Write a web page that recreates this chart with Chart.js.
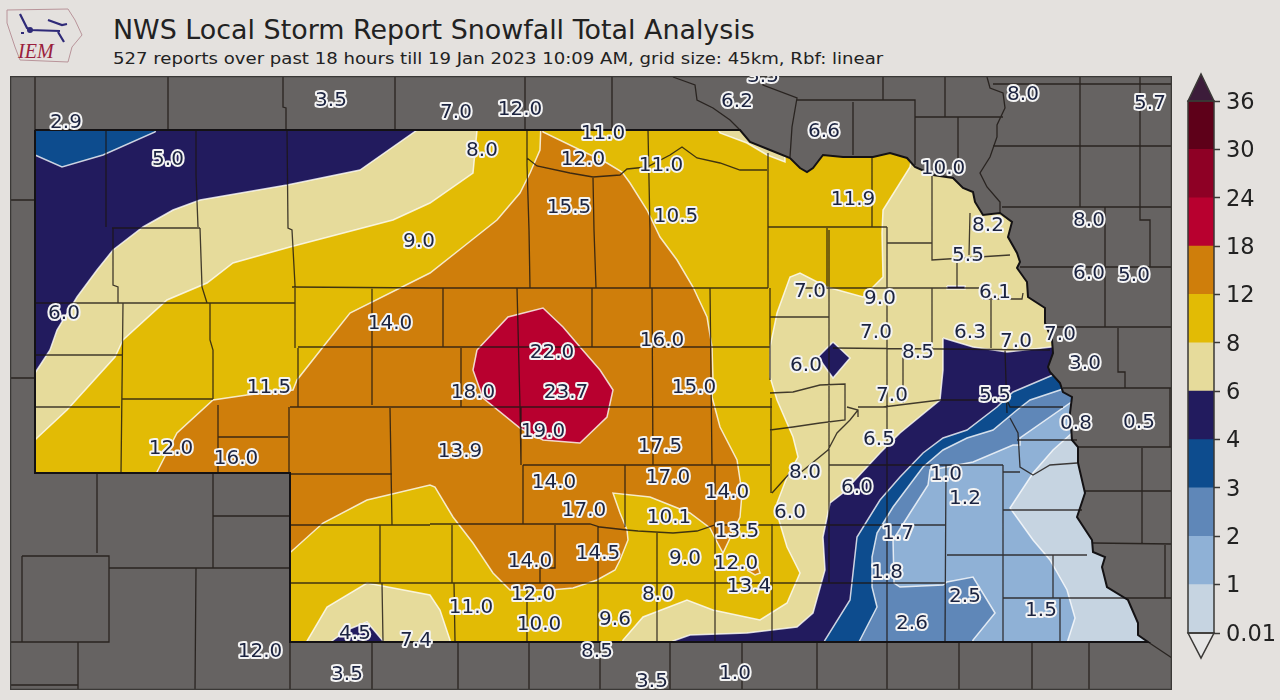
<!DOCTYPE html>
<html><head><meta charset="utf-8">
<style>
html,body{margin:0;padding:0;width:1280px;height:700px;background:#e4e1de;overflow:hidden;font-family:"DejaVu Sans",sans-serif}
#map{position:absolute;left:10px;top:76px;width:1162px;height:614px}
#bar{position:absolute;left:1180px;top:60px;width:100px;height:610px}
#t1{position:absolute;left:113px;top:13px;font-size:26.9px;line-height:34px;color:#222;white-space:nowrap;letter-spacing:0}
#t2{position:absolute;left:113px;top:47px;font-size:18.1px;line-height:22px;color:#222;white-space:nowrap;transform-origin:0 50%;transform:scaleY(.92)}
#logo{position:absolute;left:0;top:0}
</style>
<script src="https://cdn.jsdelivr.net/npm/chart.js@4/dist/chart.umd.js"></script>
</head><body>
<svg id="logo" width="90" height="70">
<polyline points="7,10 68,9 75,20 82,35 72,47 68,62 20,60 15,47 7,23 7,10" fill="none" stroke="#b9949a" stroke-width="1"/>
<path d="M20,14 L27,28 L30,30 L60,31 M48,20 L62,25 L67,24 M58,32 L64,42 M24,33 L21,33" fill="none" stroke="#2f2a78" stroke-width="2.2"/>
<circle cx="30" cy="30" r="3" fill="#2f2a78"/>
<text x="18" y="58" font-family="Liberation Serif" font-style="italic" font-size="20" fill="#9a1e3c">IEM</text>
</svg>
<div id="t1">NWS Local Storm Report Snowfall Total Analysis</div>
<div id="t2">527 reports over past 18 hours till 19 Jan 2023 10:09 AM, grid size: 45km, Rbf: linear</div>
<canvas id="map" width="1162" height="614"></canvas>
<canvas id="bar" width="100" height="610"></canvas>
<script>
// ---- colour bar ----
const barLevels = ['0.01','1','2','3','4','6','8','12','18','24','30','36'];
const barColors = ['#c6d4e1','#8fb1d6','#5f87b8','#0d4c8e','#221b5e','#e6db9b','#e2bb05','#cf7e0b','#b8002f','#8e0025','#5e0019'];
const overColor = '#3c1c3a', underColor = '#e6e6e6';

// ---- map outlines (map units) ----
const frameRing = [[10,130],[10,690],[1172,690],[1172,76],[10,76],[10,130],[35,130]];
const stateBorder = [[35,130],[740,130],[750,142],[770,150],[790,158],[800,168],[807,172],[813,168],[823,155],[843,157],[873,157],[890,153],[907,158],[915,167],[933,175],[953,178],[963,188],[973,192],[975,202],[983,215],[1000,213],[1012,222],[1008,237],[1017,253],[1020,262],[1017,268],[1027,282],[1028,297],[1045,308],[1045,323],[1052,340],[1053,353],[1048,367],[1050,372],[1060,383],[1063,392],[1072,397],[1070,413],[1072,440],[1078,447],[1078,463],[1085,493],[1077,517],[1092,540],[1093,552],[1105,557],[1102,567],[1107,587],[1128,600],[1138,623],[1138,635],[1148,642],[290,642],[290,473],[35,473],[35,130]];

// ---- snowfall contour bands, painted in order ----
const band8to12Base = [[20,120],[1160,120],[1160,660],[20,660]];
const band6to8NW = [[20,120],[478,120],[473,173],[430,203],[393,220],[290,247],[233,263],[207,283],[167,300],[123,340],[115,357],[67,410],[37,438],[20,455]];
const band4to6NW = [[20,120],[420,120],[417,130],[360,170],[287,185],[200,200],[173,210],[143,227],[113,250],[97,270],[77,297],[57,330],[50,350],[35,373],[20,390]];
const band3to4NW = [[20,120],[160,120],[155,132],[103,155],[62,167],[35,155],[20,150]];
const band12to18 = [[541,122],[543,132],[607,163],[622,172],[630,183],[647,210],[660,237],[677,260],[693,287],[707,317],[712,347],[713,380],[712,397],[720,427],[737,460],[742,493],[740,517],[723,553],[715,538],[710,528],[690,513],[650,497],[613,493],[620,513],[627,530],[628,540],[620,560],[615,570],[597,580],[573,588],[550,590],[510,590],[493,573],[473,543],[453,517],[435,487],[430,485],[367,500],[323,523],[293,550],[280,562],[280,482],[155,482],[157,472],[177,433],[213,400],[247,395],[293,390],[297,380],[323,347],[350,313],[430,273],[463,247],[497,220],[520,193],[530,173],[540,150]];
const band12to18Spot = [[747,570],[758,567],[760,573],[755,575]];
const band18to24 = [[477,350],[508,317],[543,308],[563,327],[580,347],[600,370],[613,390],[607,417],[580,443],[543,440],[520,428],[483,398],[473,370]];
const band6to8SW = [[305,650],[307,641],[327,607],[367,583],[430,595],[440,610],[450,640],[452,650]];
const band4to6SW = [[330,650],[332,641],[347,630],[367,622],[383,641],[385,650]];
const band6to8NE = [[715,125],[720,133],[747,143],[767,155],[785,162],[785,125]];
const band6to8East = [[915,140],[910,167],[883,210],[882,233],[883,277],[863,297],[827,287],[800,273],[790,277],[777,313],[770,347],[770,377],[777,400],[793,437],[798,457],[787,477],[777,503],[778,517],[787,547],[800,573],[787,603],[760,620],[713,610],[687,600],[643,617],[623,640],[620,650],[1160,650],[1160,140]];
const band4to6East = [[943,338],[973,347],[1007,352],[1060,346],[1160,346],[1160,650],[670,650],[673,641],[690,635],[747,633],[797,627],[813,613],[825,570],[823,537],[830,503],[843,493],[880,453],[900,433],[940,400],[943,370]];
const band4to6Diamond = [[833,342],[850,358],[833,378],[818,357]];
const band4to6Sliver = [[947,286],[965,286],[965,289],[947,289]];
const band3to4East = [[1060,372],[1013,392],[997,407],[967,430],[943,438],[923,453],[900,477],[880,500],[857,537],[850,600],[825,640],[820,650],[1160,650],[1160,372]];
const band2to3East = [[1075,385],[1030,400],[1017,410],[993,430],[967,438],[943,450],[923,467],[893,507],[877,533],[872,557],[872,587],[877,607],[860,640],[855,650],[1160,650],[1160,385]];
const band1to2East = [[1080,396],[1020,438],[1020,445],[1013,445],[973,462],[947,467],[930,470],[928,485],[910,513],[893,540],[894,583],[900,587],[943,585],[947,582],[973,577],[995,613],[973,640],[970,650],[1160,650],[1160,396]];
const band0to1East = [[1085,425],[1072,433],[1053,450],[1033,473],[1010,508],[1033,540],[1050,560],[1067,590],[1075,618],[1068,640],[1065,650],[1170,650],[1170,425]];

// ---- county and state lines ----
const countyLines = [
[[35,76],[35,130]],[[168,77],[168,130]],[[283,77],[283,107],[286,108],[286,130]],[[395,77],[395,130]],[[525,77],[525,130]],[[612,77],[612,130]],
[[673,77],[695,85],[697,100],[713,108],[730,120],[740,130]],[[763,78],[763,85],[797,98],[792,127],[790,157]],[[797,100],[830,100]],
[[883,77],[883,100]],[[800,100],[915,100],[915,165]],[[853,102],[853,155]],[[945,77],[945,117]],[[915,117],[1003,117]],[[958,117],[958,172]],
[[987,77],[990,88],[1003,93],[1005,108],[997,125],[997,137],[990,157],[980,173],[987,187],[1000,202],[1000,213]],
[[10,200],[35,200]],[[10,378],[35,378]],
[[993,84],[1172,84]],[[1080,77],[1080,207]],[[1140,77],[1140,220],[1150,220],[1150,267]],[[993,146],[1172,146]],[[1002,207],[1172,207]],[[1105,207],[1105,327]],[[1020,267],[1172,267]],[[1045,327],[1172,327]],[[1118,328],[1118,372],[1125,372],[1125,388]],[[1063,388],[1172,388]],[[1170,388],[1170,447]],[[1078,447],[1172,447]],[[1142,448],[1142,543]],[[1085,491],[1172,491]],[[1093,543],[1172,544]],[[1165,545],[1165,598]],[[1117,598],[1172,598]],
[[1148,642],[1160,650],[1178,662]],
[[817,642],[817,690]],[[887,642],[887,690]],[[959,642],[959,690]],[[1032,642],[1032,690]],[[1089,642],[1089,690]],[[742,642],[742,690]],[[670,642],[670,690]],[[600,642],[600,690]],[[529,642],[529,690]],[[458,642],[458,690]],[[372,642],[372,690]],[[290,642],[290,690]],
[[97,474],[97,553]],[[213,474],[213,568]],[[213,516],[289,516]],[[22,556],[109,556],[109,642],[22,642],[22,556]],[[109,568],[289,568]],[[196,568],[195,690]],[[10,642],[79,642]],[[78,642],[78,690]],[[10,685],[78,685]],
[[106,130],[106,227]],[[196,130],[196,175],[198,227]],[[112,228],[200,228]],[[113,228],[113,285],[118,287],[118,303]],[[200,228],[202,287],[207,303]],[[35,303],[295,303]],[[287,130],[288,228],[292,230],[295,285],[295,348]],[[292,287],[430,288]],[[210,303],[210,340],[213,350],[213,399]],[[123,303],[121,473]],
[[35,355],[122,355]],[[35,407],[120,407]],[[122,399],[213,399]],[[218,405],[218,473]],[[218,437],[288,437]],[[298,348],[298,407]],[[290,407],[430,407]],[[289,407],[289,473]],[[372,288],[372,405]],[[390,408],[392,525]],[[290,474],[392,474]],[[290,525],[430,525]],[[380,525],[380,583]],[[290,583],[430,583]],[[382,583],[383,641]],
[[430,288],[768,288]],[[443,288],[443,347]],[[517,288],[520,407],[521,465]],[[592,288],[592,347]],[[648,130],[650,230],[650,288]],[[593,178],[594,230],[596,288]],[[527,130],[527,165],[529,230],[530,288]],[[652,288],[653,465]],[[710,288],[712,465]],[[298,347],[770,347]],[[461,348],[461,407]],
[[768,153],[768,288]],[[768,227],[887,227]],[[827,228],[827,287]],[[770,317],[829,317]],[[770,288],[770,380]],
[[527,158],[537,166],[570,173],[593,177],[620,175],[627,169],[647,167],[670,155],[682,147],[697,158],[720,163],[740,170],[767,170]],
[[430,407],[772,407]],[[523,465],[770,465]],[[523,465],[523,524]],[[625,465],[625,527]],[[715,465],[715,641]],[[771,398],[771,493]],[[452,525],[452,583]],[[555,525],[555,568],[540,568],[540,583]],
[[430,524],[590,524],[600,527],[627,530],[638,531],[673,533],[697,531],[715,525],[945,525]],[[598,527],[598,641]],[[657,532],[657,641]],[[772,524],[772,641]],[[430,583],[945,583]],[[454,583],[455,641]],[[527,583],[527,641]],
[[770,393],[793,392],[820,385],[845,384],[845,420],[820,423],[793,427],[770,430]],[[847,407],[858,410],[858,417]],[[858,407],[883,407],[940,400],[1007,400],[1010,407],[1063,407]],[[1017,440],[1077,440]],[[1010,418],[1018,433],[1020,467],[1033,475],[1050,465],[1077,463]],[[772,493],[790,473],[800,473],[828,450],[837,433],[850,420],[858,410]],
[[887,227],[887,641]],[[829,465],[1003,465]],[[829,230],[829,583]],[[946,465],[945,641]],[[1003,465],[1003,641]],[[947,555],[1087,555]],[[1003,510],[1082,510]],[[1003,472],[1020,472]],[[1053,555],[1053,598]],[[1003,598],[1128,598]],[[1060,598],[1060,641]],
[[872,157],[872,227]],[[887,243],[932,243]],[[932,175],[932,260],[1010,255]],[[970,213],[969,255]],[[957,260],[957,288]],[[800,288],[980,288]],[[983,299],[1022,299],[1023,293]],[[932,288],[932,348]],[[991,300],[991,348]],[[833,348],[1050,350]],[[903,348],[903,403]],[[1005,350],[1007,413]]
];

// ---- spot reports ----
const reportValues = ['2.9','3.5','7.0','12.0','6.2','3.5','8.0','5.7','6.6','11.0','12.0','11.0','8.0','5.0','15.5','10.5','11.9','10.0','8.2','8.0','9.0','5.5','6.0','5.0','6.1','7.0','9.0','6.0','14.0','7.0','6.3','7.0','7.0','16.0','22.0','8.5','3.0','6.0','11.5','18.0','23.7','15.0','7.0','5.5','0.8','0.5','19.0','6.5','13.9','17.5','12.0','16.0','8.0','1.0','17.0','14.0','6.0','14.0','1.2','17.0','10.1','6.0','13.5','1.7','14.5','14.0','9.0','12.0','1.8','13.4','12.0','8.0','2.5','11.0','1.5','9.6','10.0','2.6','4.5','7.4','12.0','8.5','3.5','3.5','1.0'];
const reportX = [66,331,456,520,737,763,1023,1150,824,603,583,661,482,168,569,676,853,943,988,1089,419,968,1089,1134,995,810,880,64,390,876,970,1016,1060,662,552,918,1085,806,269,473,566,694,892,995,1076,1139,543,879,460,660,171,236,805,946,668,554,857,727,965,584,669,790,737,898,598,530,685,736,887,749,533,658,965,471,1041,615,539,912,355,416,260,597,347,652,735];
const reportY = [121,99,111,108,100,75,93,102,130,132,158,164,149,158,206,215,198,167,224,219,240,254,272,274,291,290,297,312,322,331,331,340,333,339,351,351,362,364,386,391,391,386,394,394,422,421,430,438,450,445,447,457,471,473,476,481,486,491,497,509,516,511,530,532,552,560,557,562,571,585,593,593,595,606,609,618,623,622,632,639,650,650,673,680,672];

const ST = (arr) => arr.map(p => ({x:p[0], y:p[1]}));
const closed = (arr) => ST(arr.concat([arr[0]]));
const contour = '#ffffffc8';
const layers = [
 [band8to12Base,barColors[6]],[band6to8NW,barColors[5]],[band4to6NW,barColors[4]],[band3to4NW,barColors[3]],
 [band12to18,barColors[7]],[band12to18Spot,barColors[7]],[band18to24,barColors[8]],
 [band6to8SW,barColors[5]],[band4to6SW,barColors[4]],[band6to8NE,barColors[5]],[band6to8East,barColors[5]],
 [band4to6East,barColors[4]],[band4to6Diamond,barColors[4]],[band4to6Sliver,barColors[4]],
 [band3to4East,barColors[3]],[band2to3East,barColors[2]],[band1to2East,barColors[1]],[band0to1East,barColors[0]]
];
const sets = layers.map(([p,c]) => ({data:closed(p),showLine:true,fill:'shape',backgroundColor:c,borderColor:contour,borderWidth:1.5,pointRadius:0}));
// grey surrounding states, with the state cut out as a hole
sets.push({data:ST(frameRing.concat(stateBorder,[[10,130]])),showLine:true,fill:'shape',backgroundColor:'#666362',borderWidth:0,borderColor:'transparent',pointRadius:0});
// county lines
const flat = [];
countyLines.forEach(l => { l.forEach(p => flat.push({x:p[0],y:p[1]})); flat.push({x:NaN,y:NaN}); });
sets.push({data:flat,showLine:true,spanGaps:false,fill:false,borderColor:'rgba(28,22,18,.82)',borderWidth:1.3,pointRadius:0});
sets.push({data:ST(stateBorder),showLine:true,fill:false,borderColor:'#141214',borderWidth:2,pointRadius:0});
sets.push({data:ST([[10,76],[1172,76],[1172,690],[10,690],[10,76]]),showLine:true,fill:false,borderColor:'#3a3836',borderWidth:2.5,pointRadius:0});
sets.forEach((d,i) => { d.order = sets.length - i; });

const reportLabels = {
 id:'reportLabels',
 afterDatasetsDraw(chart){
  const {ctx,scales:{x,y}} = chart;
  ctx.save();
  ctx.font = '20px "DejaVu Sans"';
  ctx.textAlign='center'; ctx.textBaseline='middle'; ctx.lineJoin='round';
  reportValues.forEach((v,i)=>{
   const px=x.getPixelForValue(reportX[i]), py=y.getPixelForValue(reportY[i])+2;
   ctx.lineWidth=4; ctx.strokeStyle='#f4f4f4'; ctx.strokeText(v,px,py);
   ctx.fillStyle='#1b2340'; ctx.fillText(v,px,py);
  });
  ctx.restore();
 }
};

new Chart(document.getElementById('map'),{
 type:'scatter',
 data:{datasets:sets},
 options:{responsive:false,animation:false,devicePixelRatio:1,events:[],
  layout:{padding:0},
  plugins:{legend:{display:false},tooltip:{enabled:false},filler:{propagate:false}},
  scales:{x:{type:'linear',min:10,max:1172,display:false},y:{type:'linear',min:76,max:690,reverse:true,display:false}}
 },
 plugins:[reportLabels]
});

const barEnds = {
 id:'barEnds',
 afterDraw(chart){
  const {ctx,chartArea:a} = chart;
  const mid=(a.left+a.right)/2;
  ctx.save(); ctx.strokeStyle='#3a3836'; ctx.lineWidth=1.5;
  ctx.beginPath(); ctx.moveTo(a.left,a.top); ctx.lineTo(mid,a.top-27); ctx.lineTo(a.right,a.top); ctx.closePath();
  ctx.fillStyle=overColor; ctx.fill(); ctx.stroke();
  ctx.beginPath(); ctx.moveTo(a.left,a.bottom); ctx.lineTo(mid,a.bottom+25); ctx.lineTo(a.right,a.bottom); ctx.closePath();
  ctx.fillStyle=underColor; ctx.fill(); ctx.stroke();
  ctx.beginPath(); ctx.rect(a.left,a.top,a.right-a.left,a.bottom-a.top); ctx.stroke();
  ctx.restore();
 }
};
new Chart(document.getElementById('bar'),{
 type:'bar',
 data:{labels:['snow'],datasets:barColors.map((c,i)=>({data:[[i,i+1]],backgroundColor:c,borderWidth:0,barPercentage:1,categoryPercentage:1,grouped:false}))},
 options:{responsive:false,animation:false,devicePixelRatio:1,events:[],
  layout:{padding:{top:41,bottom:37,left:8,right:0}},
  plugins:{legend:{display:false},tooltip:{enabled:false}},
  scales:{
   x:{display:false},
   y:{position:'right',min:0,max:11,
      afterFit(s){s.width=66;},
      grid:{drawOnChartArea:false,drawTicks:true,tickLength:6,color:'#3a3836',tickWidth:1.5},
      border:{display:false},
      ticks:{stepSize:1,autoSkip:false,padding:6,labelOffset:2,color:'#222',font:{family:'DejaVu Sans',size:22.5},callback:(v)=>barLevels[v]}}
  }
 },
 plugins:[barEnds]
});
</script>
</body></html>
